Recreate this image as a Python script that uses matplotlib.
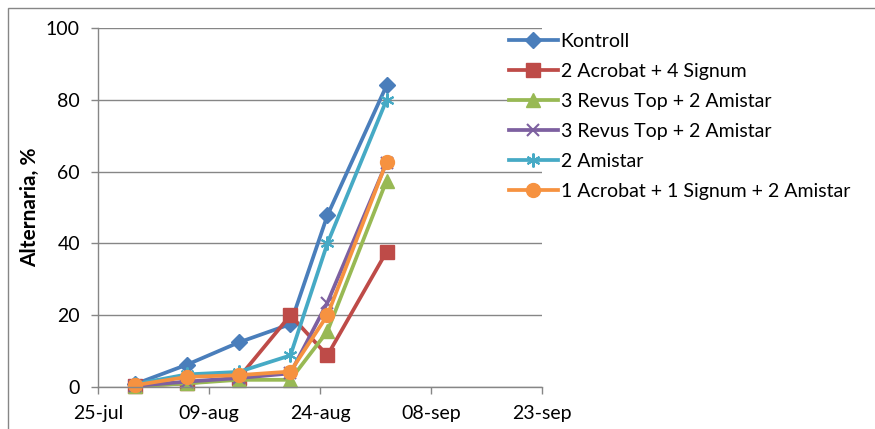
import numpy as np
import matplotlib
matplotlib.use("Agg")
import matplotlib.pyplot as plt
import matplotlib.dates as mdates
from datetime import date

plt.rcParams['font.family'] = ['Lato', 'DejaVu Sans']

############################################################### DATA ########

dates = [date(2012, 7, 30), date(2012, 8, 6), date(2012, 8, 13),
         date(2012, 8, 20), date(2012, 8, 25), date(2012, 9, 2)]

kontroll = [0.8, 6.2, 12.4, 17.5, 47.8, 84.0]
acrobat_signum = [0.3, 1.0, 2.5, 20.0, 8.8, 37.7]
revus_a = [0.2, 1.0, 2.0, 2.0, 15.5, 57.5]
revus_b = [0.3, 1.5, 2.5, 3.8, 23.5, 62.5]
amistar = [0.8, 3.5, 4.2, 8.8, 40.0, 80.0]
acrobat_signum_amistar = [0.5, 2.8, 3.3, 4.3, 20.0, 62.7]

labels = ['Kontroll', '2 Acrobat + 4 Signum', '3 Revus Top + 2 Amistar',
          '3 Revus Top + 2 Amistar', '2 Amistar',
          '1 Acrobat + 1 Signum + 2 Amistar']

tick_dates = [date(2012, 7, 25), date(2012, 8, 9), date(2012, 8, 24),
              date(2012, 9, 8), date(2012, 9, 23)]
tick_labels = ['25-jul', '09-aug', '24-aug', '08-sep', '23-sep']
y_ticks = [0, 20, 40, 60, 80, 100]

############################################################### PLOT ########

fig = plt.figure(figsize=(8.75, 4.29), dpi=100)
ax = fig.add_axes([98/875, 1-387/429, (542-98)/875, (387-28)/429])

# outer chart border (Excel chart area)
fig.patches.append(plt.Rectangle((8/875, -0.1), 2, 1-8/429+0.1,
                                 transform=fig.transFigure, fill=False,
                                 edgecolor='#868686', linewidth=1))

styles = [
    dict(color='#4A7EBB', marker='D', markersize=8.5),
    dict(color='#BE4B48', marker='s', markersize=10),
    dict(color='#98B954', marker='^', markersize=10),
    dict(color='#7D60A0', marker='x', markersize=9, markeredgewidth=1.5),
    dict(color='#46AAC5', marker=(6, 2, 0), markersize=10, markeredgewidth=1.5),
    dict(color='#F69240', marker='o', markersize=10),
]
series = [kontroll, acrobat_signum, revus_a, revus_b, amistar,
          acrobat_signum_amistar]

x = mdates.date2num(dates)
for vals, lab, st in zip(series, labels, styles):
    ax.plot(x, vals, linewidth=2.7, label=lab, clip_on=False, **st)

ax.set_xlim(mdates.date2num(tick_dates[0]), mdates.date2num(tick_dates[-1]))
ax.set_ylim(0, 100)
ax.set_xticks(mdates.date2num(tick_dates))
ax.set_xticklabels(tick_labels)
ax.set_yticks(y_ticks)
ax.tick_params(labelsize=14, colors='#868686', labelcolor='black',
               length=5, width=1)
ax.tick_params(axis='x', pad=8)
ax.tick_params(axis='y', pad=8)

ax.grid(axis='y', color='#868686', linewidth=1)
ax.set_axisbelow(True)
for s in ['top', 'right']:
    ax.spines[s].set_visible(False)
for s in ['left', 'bottom']:
    ax.spines[s].set_color('#868686')
    ax.spines[s].set_linewidth(1)

ax.set_ylabel('Alternaria, %', fontsize=15, fontweight='bold', labelpad=4)

fig.legend(loc='upper left', bbox_to_anchor=(509/875, 1-33/429),
           frameon=False, fontsize=14, handlelength=2.5,
           handletextpad=0.15, labelspacing=0.67, borderaxespad=0,
           borderpad=0)

fig.savefig('out.png', dpi=100)
